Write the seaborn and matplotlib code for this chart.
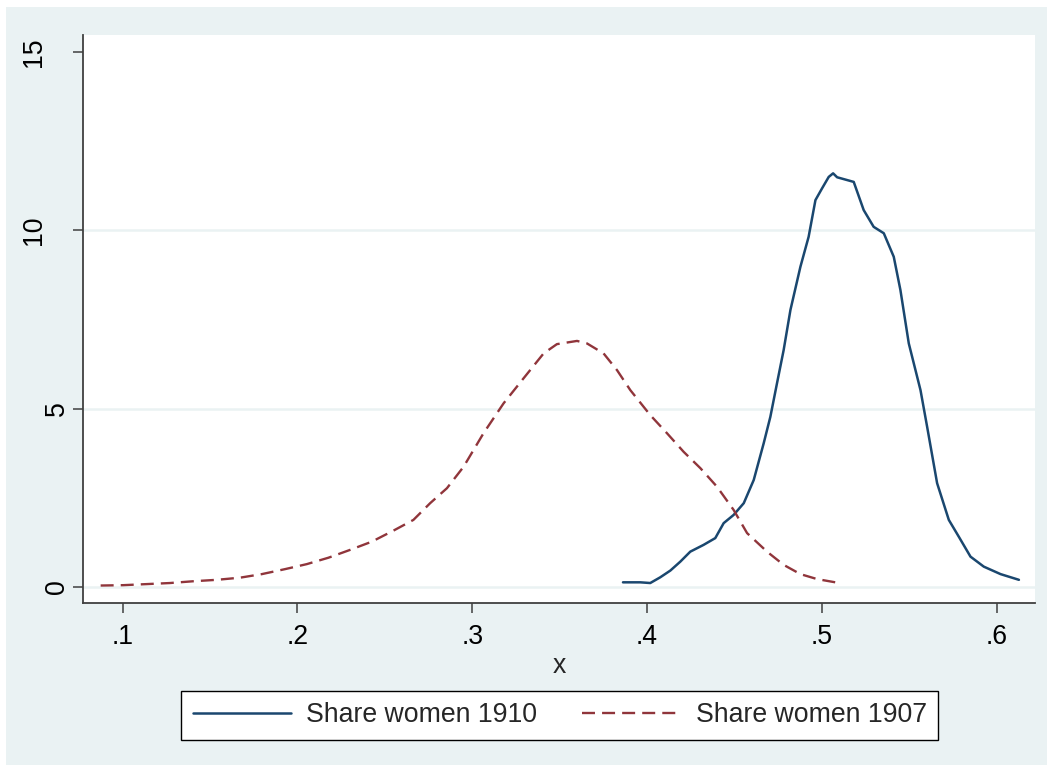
import matplotlib
matplotlib.use("Agg")
import matplotlib.pyplot as plt
from matplotlib.patches import Rectangle
import seaborn as sns
import pandas as pd

# Share women 1910 density
x1910 = [0.3862, 0.3961, 0.4018, 0.4075, 0.4133, 0.4190, 0.4247, 0.4323, 0.4390, 0.4438,
         0.4495, 0.4553, 0.4610, 0.4667, 0.4705, 0.4743, 0.4781, 0.4820, 0.4877, 0.4924,
         0.4963, 0.5001, 0.5039, 0.5064, 0.5087, 0.5182, 0.5239, 0.5296, 0.5354, 0.5411,
         0.5449, 0.5497, 0.5564, 0.5602, 0.5659, 0.5726, 0.5783, 0.5850, 0.5926, 0.6022,
         0.6127]
y1910 = [0.13, 0.13, 0.11, 0.27, 0.46, 0.71, 0.99, 1.18, 1.37, 1.79,
         2.02, 2.35, 3.00, 4.03, 4.77, 5.71, 6.64, 7.77, 8.98, 9.82,
         10.85, 11.18, 11.50, 11.60, 11.49, 11.36, 10.57, 10.10, 9.92, 9.26,
         8.33, 6.83, 5.52, 4.49, 2.91, 1.88, 1.41, 0.85, 0.57, 0.36,
         0.20]

# Share women 1907 density
x1907 = [0.0874, 0.1003, 0.1137, 0.1270, 0.1404, 0.1538, 0.1671, 0.1796, 0.1929, 0.2053,
         0.2177, 0.2301, 0.2425, 0.2549, 0.2663, 0.2759, 0.2855, 0.2950, 0.3064, 0.3179,
         0.3293, 0.3408, 0.3484, 0.3599, 0.3656, 0.3751, 0.3828, 0.3904, 0.4018, 0.4114,
         0.4209, 0.4305, 0.4400, 0.4495, 0.4572, 0.4686, 0.4781, 0.4877, 0.4973, 0.5077]
y1907 = [0.04, 0.05, 0.08, 0.11, 0.16, 0.20, 0.26, 0.36, 0.50, 0.64,
         0.82, 1.04, 1.27, 1.58, 1.88, 2.35, 2.77, 3.37, 4.31, 5.15,
         5.85, 6.55, 6.81, 6.90, 6.83, 6.55, 6.08, 5.52, 4.82, 4.31,
         3.79, 3.33, 2.81, 2.16, 1.51, 0.99, 0.62, 0.36, 0.22, 0.13]

labels = ["Share women 1910", "Share women 1907"]
xticks = [0.1, 0.2, 0.3, 0.4, 0.5, 0.6]
xticklabels = [".1", ".2", ".3", ".4", ".5", ".6"]
yticks = [0, 5, 10, 15]
xlabel = "x"

sns.set_style("white")
plt.rcParams["font.family"] = ["Liberation Sans", "DejaVu Sans"]

BG = "#EAF2F3"
BLUE = "#1A476F"
RED = "#90353B"
FS = 19.2

W, H = 1053, 772
fig = plt.figure(figsize=(W / 100, H / 100), dpi=100, facecolor="white")
fig.patches.append(Rectangle((6 / W, 7 / H), (1047 - 6) / W, (765 - 7) / H,
                             transform=fig.transFigure, facecolor=BG,
                             edgecolor="none", zorder=-10))
ax = fig.add_axes([83 / W, 1 - 603 / H, (1035 - 83) / W, (603 - 35) / H])
ax.set_facecolor("white")

df1 = pd.DataFrame({"x": x1910, "y": y1910})
df2 = pd.DataFrame({"x": x1907, "y": y1907})
sns.lineplot(data=df1, x="x", y="y", ax=ax, color=BLUE, lw=1.8,
             label=labels[0], sort=True, estimator=None)
sns.lineplot(data=df2, x="x", y="y", ax=ax, color=RED, lw=1.7,
             label=labels[1], sort=True, estimator=None)
ax.lines[1].set_linestyle((0, (5.5, 3)))

ax.set_xlim(0.0773, 0.6219)
ax.set_ylim(-0.45, 15.48)
ax.set_xticks(xticks)
ax.set_xticklabels(xticklabels)
ax.set_yticks(yticks)
ax.set_yticklabels([str(v) for v in yticks], rotation=90, va="center")
ax.set_xlabel(xlabel, fontsize=FS, labelpad=2)
ax.set_ylabel("")

ax.tick_params(axis="both", which="major", direction="out", length=7.2,
               width=1.1, color="#404040", labelsize=FS, labelcolor="black")
ax.tick_params(axis="x", pad=8, bottom=True)
ax.tick_params(axis="y", pad=2.5, left=True)

# Stata-style offset: two-digit rotated labels sit further left
for tk, v in zip(ax.yaxis.get_major_ticks(), yticks):
    if len(str(v)) > 1:
        tk.set_pad(19)

for s in ["top", "right"]:
    ax.spines[s].set_visible(False)
for s in ["left", "bottom"]:
    ax.spines[s].set_visible(True)
    ax.spines[s].set_color("#404040")
    ax.spines[s].set_linewidth(1.3)

ax.grid(False)
for v in [0, 5, 10]:
    ax.axhline(v, color=BG, lw=1.8, zorder=0)

handles, labs = ax.get_legend_handles_labels()
ax.get_legend().remove()
fl = fig.legend(handles, labs, loc="center",
                bbox_to_anchor=((172.7 + 947) / 2 / W, 1 - 715.5 / H),
                ncol=2, frameon=True, fancybox=False, edgecolor="black",
                facecolor="white", fontsize=FS, handlelength=3.7,
                handletextpad=0.56, columnspacing=1.7, borderpad=0.42,
                borderaxespad=0, framealpha=1)
fl.get_frame().set_linewidth(1.0)

fig.savefig("out.png", dpi=100, facecolor="white")
